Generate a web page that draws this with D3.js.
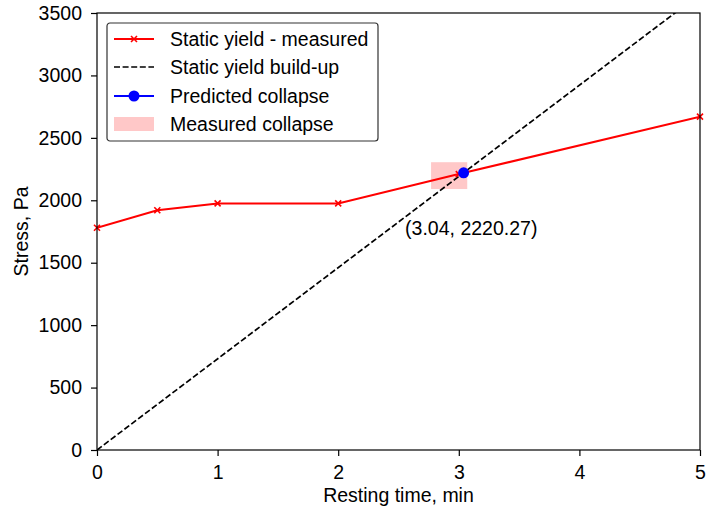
<!DOCTYPE html>
<html>
<head>
<meta charset="utf-8">
<script src="https://cdn.jsdelivr.net/npm/d3@7"></script>
<style>
  body { margin: 0; background: #fff; }
  text { font-family: "Liberation Sans", Arial, sans-serif; }
</style>
</head>
<body>
<div class="container"></div>
<script>
// measured static yield
const timeMeasured = [0, 0.5, 1, 2, 3, 5]
const stressMeasured = [1780, 1920, 1975, 1975, 2210, 2670]

// build-up line through origin and predicted collapse
const buildUpTime = [0, 5]
const collapse = {t: 3.04, s: 2220.27}

// measured collapse window
const collapseTime = [2.77, 3.07]
const collapseStress = [2090, 2305]

const xTicks = [0, 1, 2, 3, 4, 5]
const yTicks = [0, 500, 1000, 1500, 2000, 2500, 3000, 3500]

const legendItems = ["Static yield - measured", "Static yield build-up", "Predicted collapse", "Measured collapse"]

const width = 706
const height = 512
const margin = {top: 13, right: 6, bottom: 62, left: 97}
const fs = 19.5

const svg = d3.select(".container")
    .append("svg")
    .attr("width", width)
    .attr("height", height)

const x = d3.scaleLinear().domain([0, 5]).range([margin.left, width - margin.right])
const y = d3.scaleLinear().domain([0, 3500]).range([height - margin.bottom, margin.top])

svg.append("clipPath").attr("id", "clip")
    .append("rect")
    .attr("x", x(0)).attr("y", y(3500))
    .attr("width", x(5) - x(0)).attr("height", y(0) - y(3500))

const plot = svg.append("g").attr("clip-path", "url(#clip)")

// measured collapse span
plot.append("rect")
    .attr("x", x(collapseTime[0]))
    .attr("y", y(collapseStress[1]))
    .attr("width", x(collapseTime[1]) - x(collapseTime[0]))
    .attr("height", y(collapseStress[0]) - y(collapseStress[1]))
    .style("fill", "#ffc8c8")

// build-up line
const slope = collapse.s / collapse.t
plot.append("path")
    .datum(buildUpTime)
    .attr("d", d3.line().x(d => x(d)).y(d => y(d * slope)))
    .style("fill", "none")
    .style("stroke", "black")
    .style("stroke-width", 1.7)
    .style("stroke-dasharray", "6,2.6")

const measured = timeMeasured.map((t, i) => [t, stressMeasured[i]])
plot.append("path")
    .datum(measured)
    .attr("d", d3.line().x(d => x(d[0])).y(d => y(d[1])))
    .style("fill", "none")
    .style("stroke", "red")
    .style("stroke-width", 2)

function cross(g, cx, cy, r) {
    g.append("path")
        .attr("d", `M${cx - r},${cy - r}L${cx + r},${cy + r}M${cx - r},${cy + r}L${cx + r},${cy - r}`)
        .style("stroke", "red")
        .style("stroke-width", 1.6)
}

measured.forEach(d => cross(svg, x(d[0]), y(d[1]), 3))

svg.append("circle")
    .attr("cx", x(collapse.t))
    .attr("cy", y(collapse.s))
    .attr("r", 5.5)
    .style("fill", "blue")

svg.append("text")
    .attr("x", x(collapse.t) - 58.5)
    .attr("y", y(collapse.s) + 62)
    .style("font-size", fs + "px")
    .text(`(${collapse.t}, ${collapse.s})`)

// axes
svg.append("g")
    .attr("transform", `translate(0,${y(0)})`)
    .call(d3.axisBottom(x).tickValues(xTicks).tickSize(6).tickPadding(9).tickFormat(d3.format("d")))
    .call(g => g.selectAll("text").style("font-size", fs + "px").attr("fill", "black"))

svg.append("g")
    .attr("transform", `translate(${x(0)},0)`)
    .call(d3.axisLeft(y).tickValues(yTicks).tickSize(6).tickPadding(9).tickFormat(d3.format("d")))
    .call(g => g.selectAll("text").style("font-size", fs + "px").attr("fill", "black"))

svg.selectAll(".domain").remove()
svg.selectAll(".tick line").attr("stroke", "black").attr("stroke-width", 1.2)

svg.append("rect")
    .attr("x", x(0)).attr("y", y(3500))
    .attr("width", x(5) - x(0)).attr("height", y(0) - y(3500))
    .style("fill", "none")
    .style("stroke", "black")
    .style("stroke-width", 1.2)

svg.append("text")
    .attr("x", (x(0) + x(5)) / 2)
    .attr("y", 502)
    .attr("text-anchor", "middle")
    .style("font-size", fs + "px")
    .text("Resting time, min")

svg.append("text")
    .attr("transform", `translate(28,${(y(0) + y(3500)) / 2}) rotate(-90)`)
    .attr("text-anchor", "middle")
    .style("font-size", fs + "px")
    .text("Stress, Pa")

// legend
const legend = svg.append("g").attr("transform", "translate(107,23)")
legend.append("rect")
    .attr("width", 271).attr("height", 118).attr("rx", 3)
    .style("fill", "white")
    .style("stroke", "#333")
    .style("stroke-width", 1.2)

const rowY = [16, 44, 73, 101]
const items = legend.selectAll(".item")
    .data(legendItems)
    .enter()
    .append("g")
    .attr("transform", (d, i) => `translate(0,${rowY[i]})`)

items.append("text")
    .attr("x", 63)
    .attr("y", 7)
    .style("font-size", fs + "px")
    .text(d => d)

const l0 = legend.append("g").attr("transform", `translate(0,${rowY[0]})`)
l0.append("line").attr("x1", 7).attr("x2", 47).style("stroke", "red").style("stroke-width", 2)
cross(l0, 27, 0, 3)

legend.append("line")
    .attr("x1", 7).attr("x2", 47).attr("y1", rowY[1]).attr("y2", rowY[1])
    .style("stroke", "black").style("stroke-width", 1.7).style("stroke-dasharray", "6,2.6")

legend.append("line")
    .attr("x1", 7).attr("x2", 47).attr("y1", rowY[2]).attr("y2", rowY[2])
    .style("stroke", "blue").style("stroke-width", 2)
legend.append("circle").attr("cx", 27).attr("cy", rowY[2]).attr("r", 5.5).style("fill", "blue")

legend.append("rect")
    .attr("x", 7).attr("y", rowY[3] - 7).attr("width", 40).attr("height", 14)
    .style("fill", "#ffc8c8")
</script>
</body>
</html>
